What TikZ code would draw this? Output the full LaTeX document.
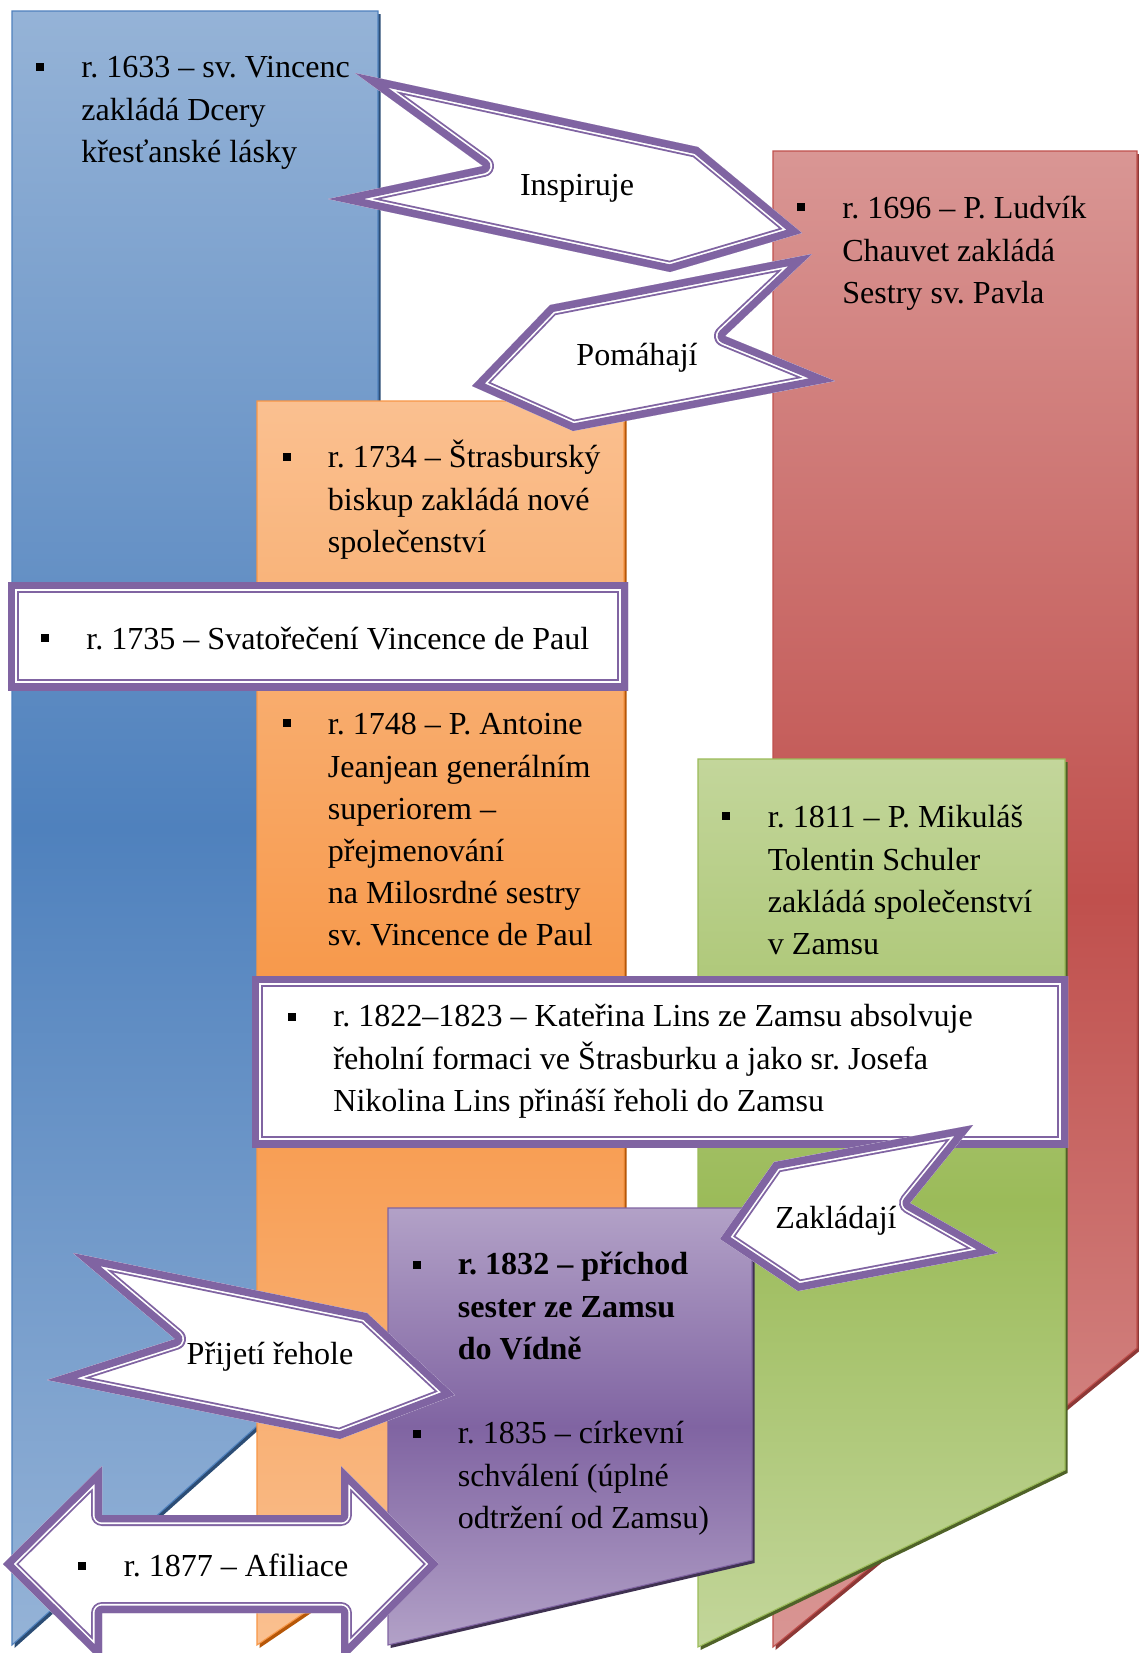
\documentclass[tikz,border=0pt]{standalone}
\usepackage{fontspec}
\setmainfont{Liberation Serif}
\frenchspacing
\definecolor{cblueL}{HTML}{95B3D7}\definecolor{cblueD}{HTML}{4F81BD}\definecolor{cblueS}{HTML}{2C4D75}
\definecolor{corangeL}{HTML}{FAC090}\definecolor{corangeD}{HTML}{F79646}\definecolor{corangeS}{HTML}{B65708}
\definecolor{credL}{HTML}{D99694}\definecolor{credD}{HTML}{C0504D}\definecolor{credS}{HTML}{8C3836}
\definecolor{cgreenL}{HTML}{C3D69B}\definecolor{cgreenD}{HTML}{9BBB59}\definecolor{cgreenS}{HTML}{4F6228}
\definecolor{cpurpleL}{HTML}{B2A1C7}\definecolor{cpurpleD}{HTML}{8064A2}\definecolor{cpurpleS}{HTML}{3F3151}
\definecolor{frame}{HTML}{8064A2}

\begin{document}
\begin{tikzpicture}[
  x=0.02cm, y=-0.02cm,
  txt/.style={font=\fontsize{18.25}{24}\selectfont, align=left, anchor=north west, inner sep=0pt},
  lbl/.style={font=\fontsize{18.25}{24}\selectfont, anchor=base, inner sep=0pt},
  bul/.style={fill=black, minimum size=4.8pt, inner sep=0pt},
  col/.style={top color=#1L, bottom color=#1L, middle color=#1D, draw=#1D, line width=0.6pt},
]
\useasboundingbox (0,0) rectangle (1139,1653);
\clip (0,0) rectangle (1139,1653);
\fill[white] (0,0) rectangle (1139,1653);

\def\dblframe#1{%
  \begin{scope}[line join=round]
    \clip #1;
    \fill[white] #1;
    \draw[frame, line width=12.5pt] #1;
    \draw[white, line width=10.4pt] #1;
    \draw[frame, line width=8.5pt] #1;
  \end{scope}}

%% ---------- columns (left, top, right, bottom, bottom right) ----------
\foreach \c/\xa/\ya/\xb/\yb/\yc in {
  cblue/12/11/378/1645/1318, corange/257/401/624/1645/1396,
  cred/773/151/1137/1647/1348, cgreen/698/759/1065/1647/1470,
  cpurple/388/1208/752/1645/1560}
{
  \fill[\c S, shift={(2.5,3)}] (\xa,\ya) -- (\xb,\ya) -- (\xb,\yc) -- (\xa,\yb) -- cycle;
  \draw[col=\c] (\xa,\ya) -- (\xb,\ya) -- (\xb,\yc) -- (\xa,\yb) -- cycle;
}

%% ---------- framed boxes ----------
\dblframe{(8,582) rectangle (628,690)}
\dblframe{(252,976) rectangle (1068,1147)}

%% ---------- arrows ----------
\dblframe{(355,73) -- (698,147) -- (802,233) -- (670,272) -- (328,199) -- (483,166) -- cycle}
\dblframe{(812,254) -- (725,336) -- (835,381) -- (573,431) -- (472,386) -- (550,305) -- cycle}
\dblframe{(973,1125) -- (910,1203) -- (998,1253) -- (798,1291) -- (720,1239) -- (774,1162) -- cycle}
\dblframe{(73,1253) -- (367,1313) -- (455,1395) -- (340,1439) -- (47,1380) -- (175,1339) -- cycle}
\dblframe{(3,1564) -- (102,1466) -- (102,1515) -- (341,1515) -- (341,1466) -- (439,1564)
  -- (341,1662) -- (341,1613) -- (102,1613) -- (102,1662) -- cycle}

\node[lbl] (inspiruje) at (577,195) {Inspiruje};
\node[lbl] (pomahaji) at (637,365) {Pomáhají};
\node[lbl] (zakladaji) at (836,1228) {Zakládají};
\node[lbl] (prijeti) at (270,1364) {Přijetí řehole};

%% ---------- texts ----------
\foreach \n/\x/\y in {1633/40/67, 1696/801/207, 1734/287/457, 1735/45/638, 1748/287/723,
  1811/726/816, 1822/292/1017, 1832/417/1265, 1835/417/1434, 1877/82/1566}
  \node[bul] (b\n) at (\x,\y) {};

\node[txt] (t1633) at (81,48) {\strut r. 1633 – sv. Vincenc\\zakládá Dcery\\křesťanské lásky};
\node[txt] (t1696) at (842,189) {\strut r. 1696 – P. Ludvík\\Chauvet zakládá\\Sestry sv. Pavla};
\node[txt] (t1734) at (327.5,438) {\strut r. 1734 – Štrasburský\\biskup zakládá nové\\společenství};
\node[txt] (t1735) at (86,620) {\strut r. 1735 – Svatořečení Vincence de Paul};
\node[txt] (t1748) at (327.5,705) {\strut r. 1748 – P. Antoine\\Jeanjean generálním\\superiorem –\\přejmenování\\na Milosrdné sestry\\sv. Vincence de Paul};
\node[txt] (t1811) at (767.5,798) {\strut r. 1811 – P. Mikuláš\\Tolentin Schuler\\zakládá společenství\\v Zamsu};
\node[txt] (t1822) at (333,997) {\strut r. 1822–1823 – Kateřina Lins ze Zamsu absolvuje\\řeholní formaci ve Štrasburku a jako sr. Josefa\\Nikolina Lins přináší řeholi do Zamsu};
\node[txt, font=\fontsize{18.25}{24}\selectfont\bfseries] (t1832) at (457.5,1245) {\strut r. 1832 – příchod\\sester ze Zamsu\\do Vídně};
\node[txt] (t1835) at (457.5,1414) {\strut r. 1835 – církevní\\schválení (úplné\\odtržení od Zamsu)};
\node[txt] (t1877) at (123.5,1547) {\strut r. 1877 – Afiliace};

\end{tikzpicture}
\end{document}
